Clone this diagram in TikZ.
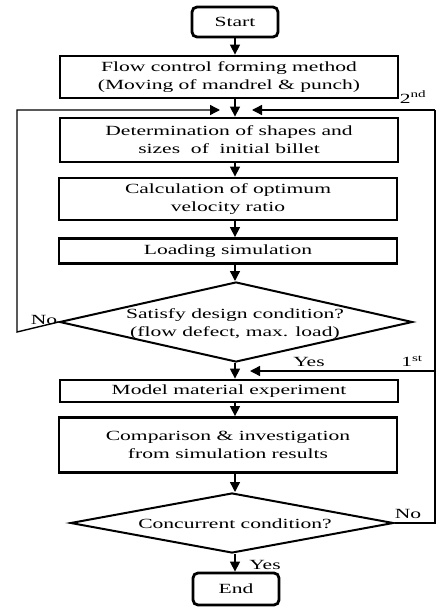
\documentclass[tikz,border=0pt]{standalone}
\usepackage{fontspec}
\setmainfont{Liberation Serif}[FakeStretch=1.54]
\usetikzlibrary{shapes.geometric,arrows.meta}
\begin{document}
\begin{tikzpicture}[x=1pt,y=-1pt,
  every node/.style={font=\fontsize{14}{18}\selectfont},
  pbox/.style={draw,line width=2.8pt,minimum width=338pt,inner sep=0pt,align=center},
  rbox/.style={draw,line width=2.8pt,rounded corners=5pt,minimum width=86pt,minimum height=30pt,inner sep=0pt},
  dia/.style={draw,diamond,line width=2pt,inner sep=0pt},
  lbl/.style={inner sep=0pt,align=center},
  arr/.style={line width=1.4pt,-{Triangle[length=10pt,width=10pt]}},
  ln/.style={line width=1.4pt}]
\useasboundingbox (0,0) rectangle (437,608);
\node[rbox] (start) at (235,22) {Start};
\node[pbox,minimum height=42pt] (b1) at (229,77) {Flow control forming method\\(Moving of mandrel \& punch)};
\node[pbox,minimum height=44pt] (b2) at (229,140) {Determination of shapes and\\sizes\ \ of\ \ initial billet};
\node[pbox,minimum height=42pt] (b3) at (228,199) {Calculation of optimum\\velocity ratio};
\node[pbox,minimum height=25pt] (b4) at (228,251) {Loading simulation};
\node[dia,minimum width=353pt,minimum height=80pt] (d1) at (236,322) {};
\node[lbl] (t1) at (235,324) {Satisfy design condition?\\(flow defect, max. load)};
\node[pbox,minimum height=22pt] (b5) at (229,391) {Model material experiment};
\node[pbox,minimum height=55pt] (b6) at (228,445) {Comparison \& investigation\\from simulation results};
\node[dia,minimum width=323pt,minimum height=60pt] (d2) at (232,523) {};
\node[lbl] (t2) at (235,524) {Concurrent condition?};
\node[rbox,minimum height=32pt] (end) at (236,589) {End};
\coordinate (j1) at (235,110);
\coordinate (j1l) at (220,110);
\coordinate (j1r) at (252,110);
\coordinate (ll) at (17,332);
\coordinate (rr) at (435,523);
\coordinate (j2) at (235,371);
\coordinate (j2r) at (250,371);
% connectors
\draw[arr] (start.south -| j1) -- (b1.north -| j1);
\draw[arr] (b1.south -| j1) -- (b2.north -| j1);
\draw[arr] (b2.south -| j1) -- (b3.north -| j1);
\draw[arr] (b3.south -| j1) -- (b4.north -| j1);
\draw[arr] (b4.south -| j1) -- (d1.north -| j1);
\draw[arr] (d1.south -| j1) -- (b5.north -| j1);
\draw[arr] (b5.south -| j1) -- (b6.north -| j1);
\draw[arr] (b6.south -| j1) -- (d2.north -| j1);
\draw[arr] (d2.south -| j1) -- (end.north -| j1);
\draw[arr] (d1.west) -- (ll) -- (ll |- j1) -- (j1l);
\draw[ln] (d2.east) -- (rr) -- (rr |- j1);
\draw[arr] (rr |- j1) -- (j1r);
\draw[arr] (rr |- j2) -- (j2r);
% labels
\node[lbl] (no1) at (44,320) {No};
\node[lbl] (yes1) at (309,362) {Yes};
\node[lbl] (st1) at (412,361) {1\textsuperscript{st}};
\node[lbl] (nd2) at (413,97) {2\textsuperscript{nd}};
\node[lbl] (no2) at (408,514) {No};
\node[lbl] (yes2) at (265,565) {Yes};
\end{tikzpicture}
\end{document}
